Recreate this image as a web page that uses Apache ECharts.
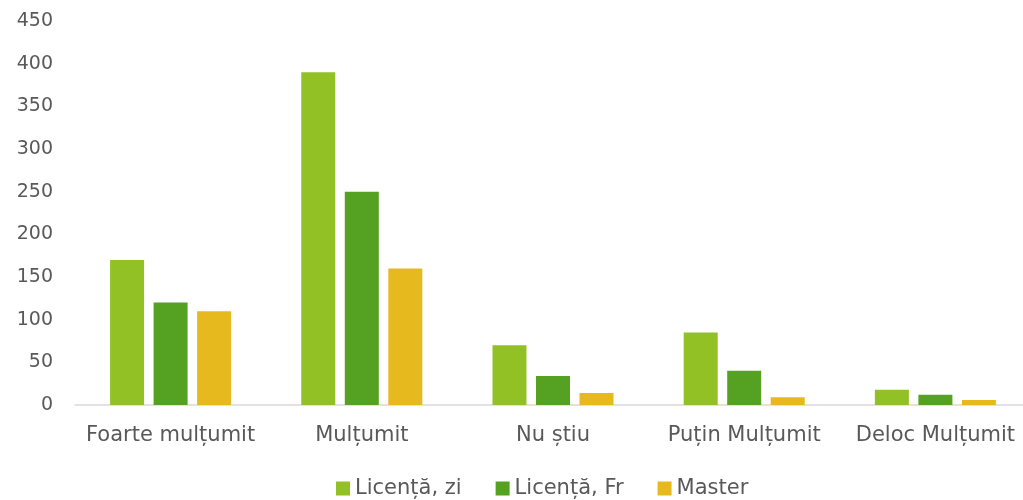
<!DOCTYPE html>
<html><head><meta charset="utf-8">
<script src="https://cdn.jsdelivr.net/npm/echarts@6/dist/echarts.min.js"></script>
<style>html,body{margin:0;padding:0;background:#fff}#c{width:1023px;height:500px}</style>
</head><body><div id="c"></div>
<script>
const categories = ['Foarte mulțumit', 'Mulțumit', 'Nu știu', 'Puțin Mulțumit', 'Deloc Mulțumit'];
const seriesNames = ['Licență, zi', 'Licență, Fr', 'Master'];
const licentaZi = [170, 390, 70, 85, 18];
const licentaFr = [120, 250, 34, 40, 12];
const master = [110, 160, 14, 9, 6];
const colors = ['#92C126', '#55A122', '#E6BA1E'];
const FONT = 'DejaVu Sans';
const chart = echarts.init(document.getElementById('c'));
const data = [licentaZi, licentaFr, master];
chart.setOption({
  animation: false,
  textStyle: { fontFamily: FONT },
  grid: { left: 75, top: 21, width: 956, height: 384, containLabel: false, outerBoundsMode: 'none' },
  legend: {
    top: 473, left: 331, itemWidth: 14, itemHeight: 14, itemGap: 34,
    icon: 'rect',
    textStyle: { color: '#595959', fontSize: 21, fontFamily: FONT },
    data: seriesNames
  },
  xAxis: {
    type: 'category', data: categories,
    axisLine: { lineStyle: { color: '#D9D9D9', width: 1.5 } },
    axisTick: { show: false },
    axisLabel: { color: '#595959', fontSize: 21, margin: 20, fontFamily: FONT, interval: 0 }
  },
  yAxis: {
    type: 'value', min: 0, max: 450, interval: 50,
    splitLine: { show: false },
    axisLine: { show: false }, axisTick: { show: false },
    axisLabel: { color: '#595959', fontSize: 19, margin: 22, fontFamily: FONT }
  },
  series: seriesNames.map((n, i) => ({
    name: n, type: 'bar', data: data[i], barWidth: 34, barGap: '28%',
    itemStyle: { color: colors[i] }
  }))
});
</script></body></html>
